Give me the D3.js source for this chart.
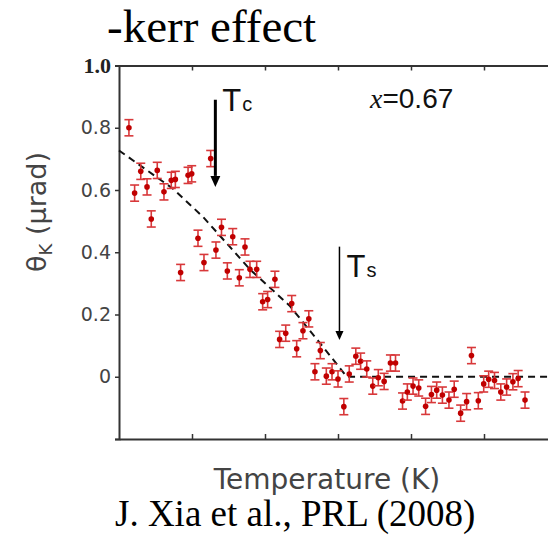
<!DOCTYPE html>
<html>
<head>
<meta charset="utf-8">
<script src="https://cdn.jsdelivr.net/npm/d3@7"></script>
<style>
body { margin:0; background:#fff; }
svg { display:block; }
</style>
</head>
<body>
<script>
// Kerr rotation vs temperature, x=0.67
var tempK = [6.8,10.7,14.9,19.2,22.1,26.2,30.8,35.8,38.6,42.2,47.3,49.8,54.1,58.2,62.8,66.4,70.2,74.2,77.9,82.4,
	86.3,89.7,94.3,98.4,101.8,106.8,110.0,114.2,118.3,121.7,126.0,130.0,134.2,137.9,142.0,145.9,150.0,154.0,157.7,162.2,
	165.5,169.7,173.8,177.6,181.6,185.9,189.4,194.2,197.5,201.4,205.3,210.0,214.0,217.6,221.5,226.0,229.6,234.0,238.1,241.4,
	246.1,249.8,253.2,257.2,261.5,265.5,269.8,273.4,278.1];
var thetaK = [0.80,0.59,0.66,0.61,0.507,0.663,0.594,0.631,0.634,0.335,0.647,0.652,0.445,0.367,0.701,0.407,0.48,0.34,0.45,0.318,
	0.417,0.345,0.345,0.241,0.248,0.313,0.12,0.14,0.235,0.09,0.148,0.186,0.016,0.084,0.002,0.016,-0.007,-0.096,0.009,0.066,
	0.05,0.025,-0.03,-0.003,-0.015,0.044,0.044,-0.078,-0.049,-0.03,-0.036,-0.095,-0.057,-0.043,-0.059,-0.075,-0.04,-0.117,-0.08,0.068,
	-0.077,-0.023,-0.008,-0.012,-0.049,-0.033,-0.016,-0.006,-0.075];
var errBar = 0.026;

// dashed guide line
var fitT = [0, 37, 57.7, 89.7, 117.1, 142.3, 156, 300];
var fitV = [0.727, 0.604, 0.513, 0.345, 0.227, 0.081, 0, 0];

var yTicks = [-0.2, 0, 0.2, 0.4, 0.6, 0.8, 1.0];
var xTicks = [50, 100, 150, 200, 250];
var Tc = 66, Ts = 151;

var width = 548, height = 539;
var svg = d3.select('body').append('svg')
	.attr('width', width)
	.attr('height', height);

var x = d3.scaleLinear().domain([0, 300]).range([119, 557]);
var y = d3.scaleLinear().domain([-0.2, 1.0]).range([439, 65.5]);

svg.append('text')
	.attr('x', 107).attr('y', 42)
	.attr('font-family', 'Liberation Serif, Times New Roman, serif')
	.attr('font-size', 47)
	.attr('fill', '#000')
	.text('-kerr effect');

// axes
var axisColor = '#333';
var leftAxis = svg.append('g')
	.attr('transform', 'translate(' + x(0) + ',0)')
	.call(d3.axisLeft(y).tickValues(yTicks).tickSize(4).tickPadding(4)
		.tickFormat(function(d){
			if (d < 0) return '';
			if (d === 0) return '0';
			return d3.format('.1f')(d);
		}));
leftAxis.select('.domain').attr('stroke', axisColor).attr('stroke-width', 2);
leftAxis.selectAll('.tick line').attr('stroke', axisColor).attr('stroke-width', 1.5);
leftAxis.selectAll('.tick text')
	.attr('font-family', 'DejaVu Sans, Verdana, sans-serif')
	.attr('font-size', 19)
	.attr('fill', '#444')
	.each(function(d){
		if (d === 1.0) d3.select(this)
			.attr('font-family', 'Liberation Serif, Times New Roman, serif')
			.attr('font-weight', 'bold')
			.attr('font-size', 22)
			.attr('fill', '#222');
	});

var bottomAxis = svg.append('g')
	.attr('transform', 'translate(0,' + y(-0.2) + ')')
	.call(d3.axisBottom(x).tickValues(xTicks).tickSizeInner(-5).tickSizeOuter(0).tickFormat(''));
var topAxis = svg.append('g')
	.attr('transform', 'translate(0,' + y(1.0) + ')')
	.call(d3.axisTop(x).tickValues(xTicks).tickSizeInner(-5).tickSizeOuter(0).tickFormat(''));
[bottomAxis, topAxis].forEach(function(a){
	a.select('.domain').attr('stroke', axisColor).attr('stroke-width', 2);
	a.selectAll('.tick line').attr('stroke', axisColor).attr('stroke-width', 1.5);
});

// dashed line
var line = d3.line()
	.x(function(d, i){ return x(fitT[i]); })
	.y(function(d){ return y(d); });
svg.append('path')
	.datum(fitV)
	.attr('d', line)
	.attr('fill', 'none')
	.attr('stroke', '#111')
	.attr('stroke-width', 2)
	.attr('stroke-dasharray', '7,5');

// data with error bars
var pts = svg.append('g').attr('class', 'points')
	.selectAll('g')
	.data(tempK).enter()
	.append('g');
pts.append('line')
	.attr('x1', function(d){ return x(d); })
	.attr('x2', function(d){ return x(d); })
	.attr('y1', function(d, i){ return y(thetaK[i] - errBar); })
	.attr('y2', function(d, i){ return y(thetaK[i] + errBar); })
	.attr('stroke', '#d8383a').attr('stroke-width', 1.6);
[-1, 1].forEach(function(s){
	pts.append('line')
		.attr('x1', function(d){ return x(d) - 4.5; })
		.attr('x2', function(d){ return x(d) + 4.5; })
		.attr('y1', function(d, i){ return y(thetaK[i] + s*errBar); })
		.attr('y2', function(d, i){ return y(thetaK[i] + s*errBar); })
		.attr('stroke', '#d8383a').attr('stroke-width', 1.6);
});
pts.append('circle')
	.attr('cx', function(d){ return x(d); })
	.attr('cy', function(d, i){ return y(thetaK[i]); })
	.attr('r', 2.8)
	.attr('fill', '#c00000');

// arrows for Tc and Ts
function arrow(t, yTop, yTip, w, head){
	svg.append('line')
		.attr('x1', x(t)).attr('x2', x(t))
		.attr('y1', y(yTop)).attr('y2', y(yTip) - head)
		.attr('stroke', '#000').attr('stroke-width', w);
	svg.append('path')
		.attr('d', 'M' + (x(t) - head*0.45) + ',' + (y(yTip) - head) + 'L' + (x(t) + head*0.45) + ',' + (y(yTip) - head) + 'L' + x(t) + ',' + y(yTip) + 'Z')
		.attr('fill', '#000');
}
arrow(Tc, 0.89, 0.61, 3, 11);
arrow(Ts, 0.418, 0.118, 1.5, 9);

function tLabel(t, yv, sub){
	var tx = svg.append('text')
		.attr('x', x(t) + 7).attr('y', y(yv))
		.attr('font-family', 'Liberation Sans, Arial, sans-serif')
		.attr('font-size', 31)
		.attr('fill', '#111');
	tx.append('tspan').text('T');
	tx.append('tspan').attr('font-size', 20).attr('dx', 1).text(sub);
}
tLabel(Tc, 0.855, 'c');
tLabel(Ts, 0.322, 's');

var xl = svg.append('text')
	.attr('x', 370).attr('y', 108)
	.attr('font-size', 28)
	.attr('fill', '#111');
xl.append('tspan')
	.attr('font-family', 'Liberation Serif, Times New Roman, serif')
	.attr('font-style', 'italic')
	.text('x');
xl.append('tspan')
	.attr('font-family', 'Liberation Sans, Arial, sans-serif')
	.text('=0.67');

// axis titles
var yl = svg.append('text')
	.attr('transform', 'translate(46,' + 212 + ') rotate(-90)')
	.attr('text-anchor', 'middle')
	.attr('font-family', 'DejaVu Sans, Verdana, sans-serif')
	.attr('font-size', 27)
	.attr('fill', '#444');
yl.append('tspan').text('θ');
yl.append('tspan').attr('font-size', 18).attr('dy', 6).text('K');
yl.append('tspan').attr('dy', -6).text(' (μrad)');

svg.append('text')
	.attr('x', 327).attr('y', 489)
	.attr('text-anchor', 'middle')
	.attr('font-family', 'DejaVu Sans, Verdana, sans-serif')
	.attr('font-size', 28)
	.attr('fill', '#444')
	.text('Temperature (K)');

svg.append('text')
	.attr('x', 115).attr('y', 526)
	.attr('font-family', 'Liberation Serif, Times New Roman, serif')
	.attr('font-size', 37)
	.attr('fill', '#000')
	.text('J. Xia et al., PRL (2008)');
</script>
</body>
</html>
